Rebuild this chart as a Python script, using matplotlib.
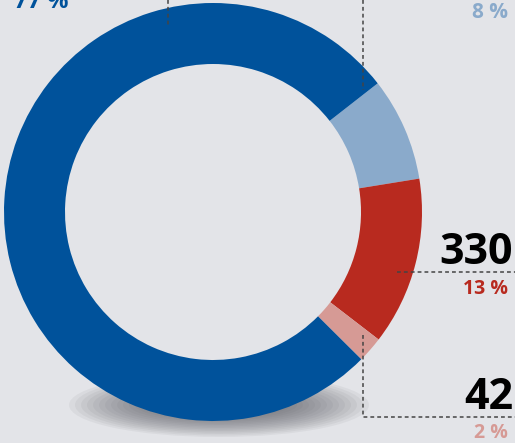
import matplotlib.pyplot as plt
from matplotlib.patches import Ellipse

# shares of the ring (clockwise, starting at the light blue slice)
labels = ['8 %', '13 %', '2 %', '77 %']
shares = [8, 13, 2, 77]
colors = ['#8aaacb', '#b82a1f', '#d69a95', '#00529b']
counts = {'13 %': 330, '2 %': 42}

bg = '#e3e4e8'
W, H = 515, 443

fig = plt.figure(figsize=(W / 100, H / 100), dpi=100, facecolor=bg)
ax = fig.add_axes([0, 0, 1, 1])
ax.set_facecolor(bg)

cx, cy, r = 213, H - 212, 209

# soft shadow under the ring
for i in range(18):
    ax.add_patch(Ellipse((cx + 6, H - 405), 300 - i * 12, 64 - i * 3,
                         color='#55555c', alpha=0.065, lw=0, zorder=1))

ax.pie(shares, colors=colors, startangle=38, counterclock=False,
       center=(cx, cy), radius=r, wedgeprops=dict(width=61, linewidth=0, zorder=2))
ax.set_xlim(0, W)
ax.set_ylim(0, H)
ax.set_aspect('auto')
ax.axis('off')

font = 'Open Sans'
dash = dict(color='#444444', lw=1.1, ls=(0, (2.5, 2)), zorder=3)

# 77 %
ax.plot([168, 168], [H, H - 26], **dash)
ax.text(68, H - 2, '77 %', ha='right', va='center', fontsize=17, fontweight='bold',
        color=colors[3], family=font)

# 8 %
ax.plot([363, 363], [H, H - 90], **dash)
ax.text(508, H - 12, '8 %', ha='right', va='center', fontsize=15, fontweight='bold',
        color=colors[0], family=font)

# 330 / 13 %
ax.plot([397, W], [H - 272, H - 272], **dash)
ax.text(513, H - 274, str(counts['13 %']), ha='right', va='bottom', fontsize=31,
        fontweight='bold', color='#000000', family=font)
ax.text(508, H - 289, '13 %', ha='right', va='center', fontsize=14, fontweight='bold',
        color=colors[1], family=font)

# 42 / 2 %
ax.plot([363, 363, W], [H - 335, H - 417, H - 417], **dash)
ax.text(513, H - 419, str(counts['2 %']), ha='right', va='bottom', fontsize=31,
        fontweight='bold', color='#000000', family=font)
ax.text(508, H - 433, '2 %', ha='right', va='center', fontsize=14, fontweight='bold',
        color=colors[2], family=font)

fig.savefig('out.png', dpi=100, facecolor=bg)
